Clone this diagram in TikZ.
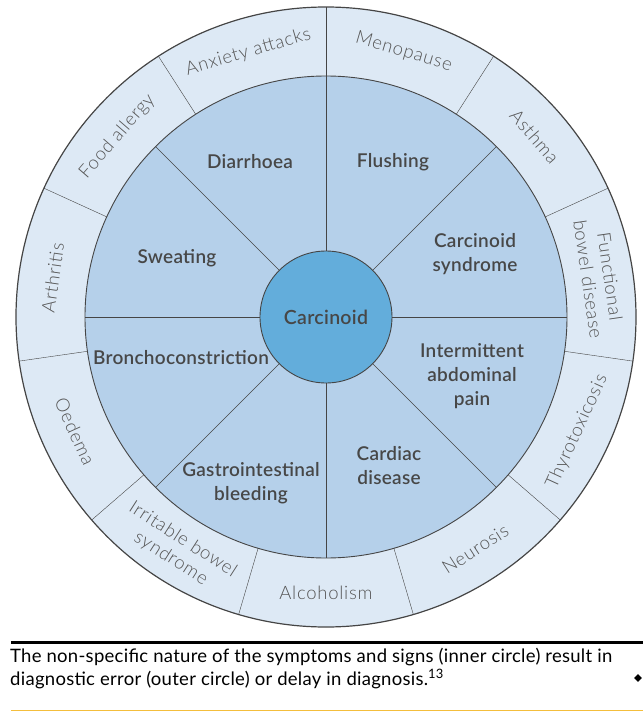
\documentclass[tikz,border=0pt]{standalone}
\usepackage{fontspec}
\setmainfont{Lato}
\newfontfamily\lightsans[LetterSpace=4]{Lato Light}
\newfontfamily\semisans[LetterSpace=1.5]{Lato Semibold}
\usetikzlibrary{shapes.geometric}
\definecolor{outerfill}{HTML}{DDE9F5}
\definecolor{innerfill}{HTML}{B5D0EA}
\definecolor{corefill}{HTML}{63ADDB}
\definecolor{rim}{HTML}{454545}
\definecolor{inktext}{HTML}{474747}
\definecolor{softtext}{HTML}{555555}
\definecolor{goldline}{HTML}{F4BE3C}

\tikzset{
	symptom/.style={font=\semisans\fontsize{19}{24}\selectfont, text=inktext, align=center},
	mimic/.style={font=\lightsans\fontsize{18.5}{22}\selectfont, text=softtext, align=center},
}

\begin{document}
\begin{tikzpicture}[x=1pt,y=1pt]
	\useasboundingbox (-326,-396) rectangle (317,317);

	% the two rings
	\fill[outerfill] (0,0) circle (310);
	\fill[innerfill] (0,0) circle (241);
	\foreach \k in {0,...,10}
		\draw[rim] ({90-\k*360/11}:241) -- ({90-\k*360/11}:310);
	\foreach \a in {0,45,...,315}
		\draw[rim] (\a:60) -- (\a:241);
	\draw[rim, line width=1.2pt] (0,0) circle (310);
	\draw[rim, line width=0.9pt] (0,0) circle (241);

	\node[circle, fill=corefill, draw=rim, line width=0.9pt, minimum size=132pt, symptom, font=\semisans\fontsize{19.5}{22}\selectfont] (core) at (0,0) {Carcinoid};

	% inner circle: symptoms and signs
	\node[symptom] (diarrhoea) at (-76,155) {Diarrhoea};
	\node[symptom] (flushing) at (67,155) {Flushing};
	\node[symptom] (syndrome) at (149,63) {Carcinoid\\syndrome};
	\node[symptom] (abdominal) at (146,-59) {Intermittent\\abdominal\\pain};
	\node[symptom] (cardiac) at (63,-149) {Cardiac\\disease};
	\node[symptom] (bleeding) at (-75,-166) {Gastrointestinal\\bleeding};
	\node[symptom] (broncho) at (-145,-41) {Bronchoconstriction};
	\node[symptom] (sweating) at (-149,59) {Sweating};

	% outer circle: diagnostic error
	\foreach \ang/\rot/\txt/\nm in {73.64/-16.36/Menopause/menopause, 40.91/-49.09/Asthma/asthma,
			8.18/-81.82/{Functional\\bowel disease}/bowel, -24.55/65.45/Thyrotoxicosis/thyro,
			-57.27/32.73/Neurosis/neurosis, -90/0/Alcoholism/alcohol,
			-122.73/-32.73/{Irritable bowel\\syndrome}/irritable, -155.45/-65.45/Oedema/oedema,
			171.82/81.82/Arthritis/arthritis, 139.09/49.09/Food allergy/food,
			106.36/16.36/Anxiety attacks/anxiety}
		\node[mimic, rotate=\rot] (\nm) at (\ang:276) {\txt};

	% caption
	\draw[black, line width=2.6pt] (-315,-325.5) -- (317,-325.5);
	\node[anchor=base west, align=left, inner sep=0pt, text=black, font=\addfontfeature{LetterSpace=1.5}\fontsize{18.5}{23}\selectfont] (caption) at (-316,-368)
		{The non-specific nature of the symptoms and signs (inner circle) result in\\diagnostic error (outer circle) or delay in diagnosis.\textsuperscript{13}};
	\node[diamond, fill=black, inner sep=0pt, minimum size=8pt] (endmark) at (312,-361) {};
	\draw[goldline, line width=1.5pt] (-315,-393.5) -- (317,-393.5);
\end{tikzpicture}
\end{document}
